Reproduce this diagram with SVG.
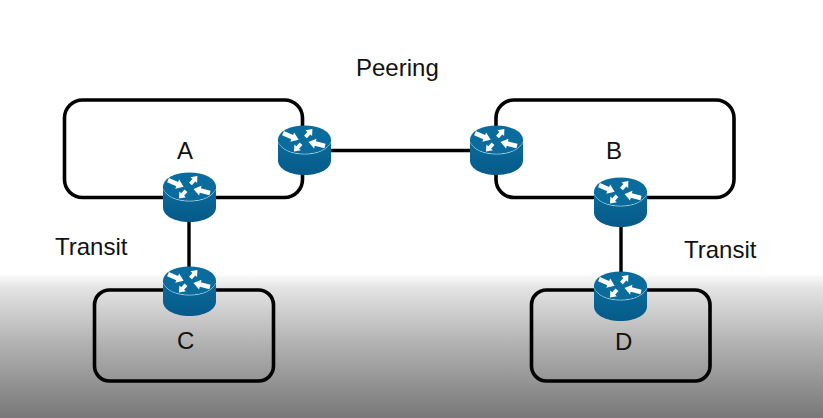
<svg xmlns="http://www.w3.org/2000/svg" width="823" height="418" viewBox="0 0 823 418">
<style>
.net{fill:none;stroke:#000;stroke-width:3.6}
.link{fill:none;stroke:#000;stroke-width:3.4}
text{font-family:"Liberation Sans",Arial,sans-serif;font-size:24px;fill:#111}
.long,.short{fill:#fff}
</style>
<defs>
<linearGradient id="bg" x1="0" y1="0" x2="0" y2="1">
<stop offset="0" stop-color="#fff"/><stop offset="0.1" stop-color="#e4e4e4"/><stop offset="0.5" stop-color="#b0b0b0"/><stop offset="1" stop-color="#787878"/>
</linearGradient>
<linearGradient id="side" x1="0" y1="0" x2="0" y2="1">
<stop offset="0" stop-color="#0a6c9c"/><stop offset="1" stop-color="#055a88"/>
</linearGradient>
<path id="long" class="long" d="M0 -2.3H10V-5L17 0L10 5V2.3H0Z"/>
<path id="short" class="short" d="M0 -1.9H5V-4.4L10.5 0L5 4.4V1.9H0Z"/>
<g id="router">
<path d="M0 14.5V35.5C0 44 12 50 26.500 50S53 44 53 35.500V14.500Z" fill="url(#side)"/>
<path d="M0.500 17C3 24 13 29 26.500 29S50 24 52.500 17" fill="none" stroke="#a8d4e6" stroke-width="1"/>
<ellipse cx="26.500" cy="14.500" rx="26.500" ry="14" fill="#0a6c9c"/>
<use href="#long" transform="translate(5 8.200) rotate(23)"/>
<use href="#long" transform="translate(47 21) rotate(194)"/>
<use href="#short" transform="translate(27.500 12) rotate(-49)"/>
<use href="#short" transform="translate(23 18.700) rotate(132)"/>
</g>
</defs>
<rect id="background" x="0" y="273" width="823" height="145" fill="url(#bg)"/>
<g id="connectors">
<path class="link" d="M330 150.500H470"/>
<path class="link" d="M189 222V267"/>
<path class="link" d="M621 226V272"/>
</g>
<g id="network-a"><rect class="net" x="64.500" y="100" width="238" height="97.500" rx="18"/><text x="177" y="159">A</text></g>
<g id="network-b"><rect class="net" x="496" y="100" width="238" height="97.500" rx="18"/><text x="606" y="159">B</text></g>
<g id="network-c"><rect class="net" x="94.500" y="290" width="179" height="91" rx="15"/><text x="177" y="349">C</text></g>
<g id="network-d"><rect class="net" x="531.500" y="290" width="178.500" height="91" rx="15"/><text x="615" y="350">D</text></g>
<g id="router-a"><use href="#router" x="163" y="172"/></g>
<g id="router-peer-a"><use href="#router" x="278" y="125"/></g>
<g id="router-peer-b"><use href="#router" x="470" y="125"/></g>
<g id="router-b"><use href="#router" x="594" y="177"/></g>
<g id="router-c"><use href="#router" x="163" y="266"/></g>
<g id="router-d"><use href="#router" x="594" y="271"/></g>
<text x="356" y="76">Peering</text>
<text x="55" y="255">Transit</text>
<text x="684" y="258">Transit</text>
</svg>
